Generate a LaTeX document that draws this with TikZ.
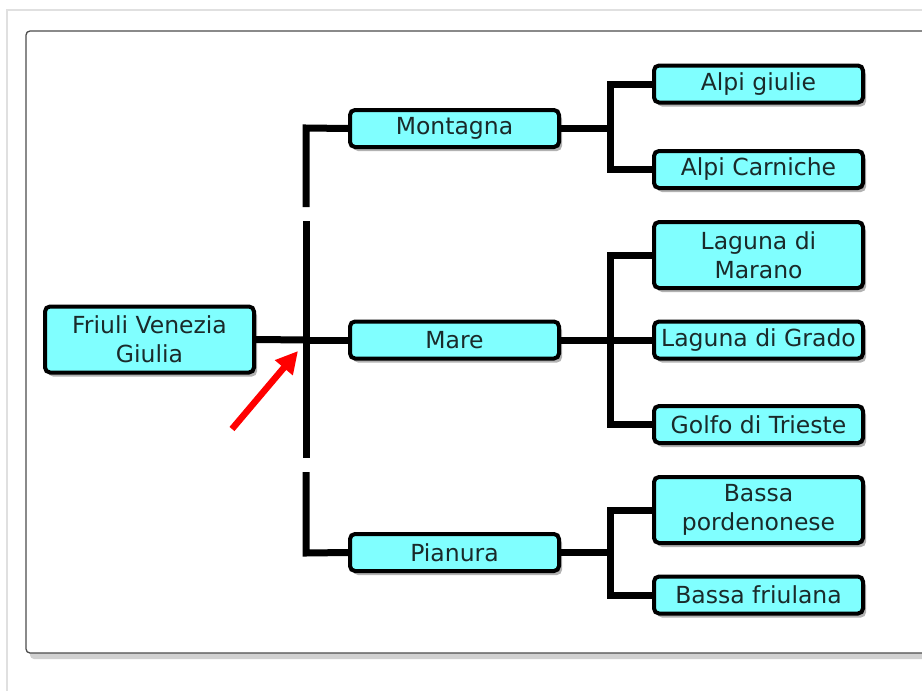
\documentclass[tikz,border=0pt]{standalone}
\usepackage{fontspec}
\setmainfont{DejaVu Sans}
\usetikzlibrary{shadows,arrows.meta}
\definecolor{boxfill}{HTML}{80FFFF}
\definecolor{txt}{HTML}{1A2A2A}
\tikzset{
  box/.style={draw=black, line width=4pt, fill=boxfill, rounded corners=5pt,
    minimum width=209pt, minimum height=37pt, align=center, text=txt,
    font=\fontsize{23.5}{29}\selectfont, inner sep=0pt,
    drop shadow={shadow xshift=3pt, shadow yshift=-4pt, fill=black, opacity=0.3}},
  tall/.style={minimum height=66pt},
  conn/.style={draw=black, line width=7pt, line join=miter},
  pointer/.style={draw=red, line width=6.5pt, -{Triangle[length=22pt,width=22pt]}},
}
\begin{document}
\begin{tikzpicture}[x=1pt,y=-1pt]
\useasboundingbox (0,0) rectangle (922,691);
\clip (0,0) rectangle (922,691);
% page frame
\draw[draw=black!12, line width=2.5pt] (7,700) -- (7,10) -- (940,10);
% inner panel with shadow
\fill[black!30, opacity=0.6, rounded corners=4pt] (30,36) rectangle (940,659);
\draw[draw=black!70, fill=white, line width=1.3pt, rounded corners=4pt] (26,31) rectangle (940,653);

% nodes
\node[box, tall] (fvg) at (149.5,339.5) {Friuli Venezia\\Giulia};
\node[box] (mont) at (454.5,128.5) {Montagna};
\node[box] (mare) at (454.5,340) {Mare};
\node[box] (pian) at (454.5,552.5) {Pianura};
\node[box] (giulie) at (758.5,84) {Alpi giulie};
\node[box] (carn) at (758.5,169.5) {Alpi Carniche};
\node[box, tall] (maran) at (758.5,255) {Laguna di\\Marano};
\node[box] (grado) at (758.5,340) {Laguna di Grado};
\node[box] (golfo) at (758.5,424.5) {Golfo di Trieste};
\node[box, tall] (porde) at (758.5,510) {Bassa\\pordenonese};
\node[box] (friul) at (758.5,595) {Bassa friulana};

% trunk coordinates
\coordinate (tTop) at (306,128);
\coordinate (g1a) at (306,207);
\coordinate (g1b) at (306,221);
\coordinate (tMid) at (306,340);
\coordinate (g2a) at (306,458);
\coordinate (g2b) at (306,472);
\coordinate (tBot) at (306,553);

\draw[conn] (fvg.east) -- (tMid);
\draw[conn] (mont.west) -- (tTop) -- (g1a);
\draw[conn] (g1b) -- (g2a);
\draw[conn] (mare.west) -- (tMid);
\draw[conn] (pian.west) -- (tBot) -- (g2b);

% Montagna branch
\coordinate (mJ) at (610,128.5);
\coordinate (mA) at (610,84);
\coordinate (mB) at (610,169.5);
\draw[conn] (mont.east) -- (mJ);
\draw[conn] (giulie.west) -- (mA) -- (mB) -- (carn.west);

% Mare branch
\coordinate (rA) at (610,255);
\coordinate (rB) at (610,424.5);
\draw[conn] (mare.east) -- (grado.west);
\draw[conn] (maran.west) -- (rA) -- (rB) -- (golfo.west);

% Pianura branch
\coordinate (pJ) at (610,552.5);
\coordinate (pA) at (610,510);
\coordinate (pB) at (610,595);
\draw[conn] (pian.east) -- (pJ);
\draw[conn] (porde.west) -- (pA) -- (pB) -- (friul.west);

% red pointer
\coordinate (arT) at (232,429);
\coordinate (arH) at (298,351);
\draw[pointer] (arT) -- (arH);
\end{tikzpicture}
\end{document}
